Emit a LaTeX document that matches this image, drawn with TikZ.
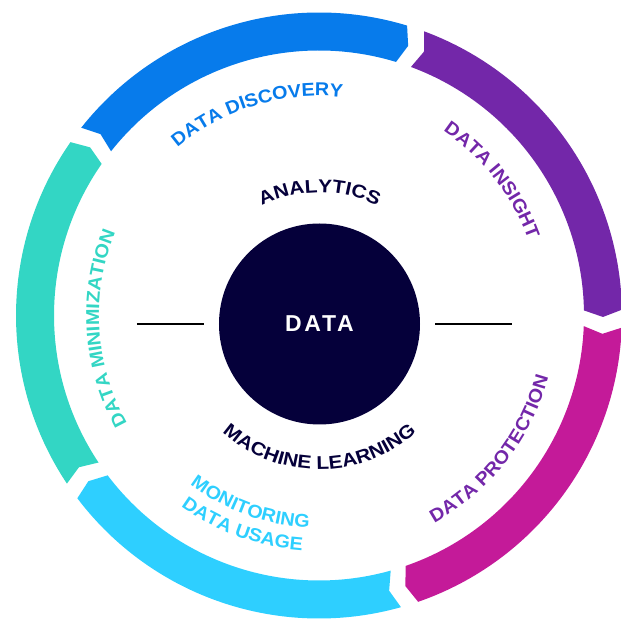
\documentclass[tikz,border=0pt]{standalone}
\usepackage{fontspec}
\setmainfont{Liberation Sans}
\newfontfamily\ringfont[FakeStretch=1.07]{Liberation Sans}
\newfontfamily\innerfont[FakeStretch=1.13]{Liberation Sans}
\newfontfamily\corefont[LetterSpace=12]{Liberation Sans}
\definecolor{cBlue}{HTML}{077BEB}
\definecolor{cPurple}{HTML}{7327A9}
\definecolor{cMagenta}{HTML}{C41A99}
\definecolor{cCyan}{HTML}{2ECFFF}
\definecolor{cTeal}{HTML}{33D6C4}
\definecolor{cNavy}{HTML}{05003A}
\newcommand\ringlbl{\ringfont\bfseries\fontsize{18.5}{20}\selectfont}
\newcommand\corelbl{\innerfont\bfseries\fontsize{18.5}{20}\selectfont}
\usetikzlibrary{decorations.text}

\begin{document}
\begin{tikzpicture}[x=1pt, y=1pt,
  core/.style={circle, fill=cNavy, text=white, minimum size=201, inner sep=0,
    font=\corefont\bfseries\fontsize{23}{26}\selectfont},
  bar/.style={line width=2.2pt, color=black},
  arclbl/.style={decorate, decoration={text along path, text align=center,
    text color=#1}}
]
  \useasboundingbox (-319,-304.5) rectangle (302,315.5);
  \def\rout{303} \def\rin{265} \def\rmid{284}

  % ring of five arrows, clockwise
  \foreach \col [count=\k from 0] in {cBlue,cPurple,cMagenta,cCyan,cTeal}{
    \pgfmathsetmacro\bt{143.4-72*\k-1.7}
    \pgfmathsetmacro\bh{143.4-72*(\k+1)+1.7}
    \pgfmathsetmacro\tip{\bh-1.4}
    \pgfmathsetmacro\notch{\bt-1.4}
    \fill[\col] (\bt:\rout) arc[start angle=\bt, end angle=\bh, radius=\rout]
      -- (\tip:\rmid) -- (\bh:\rin)
      arc[start angle=\bh, end angle=\bt, radius=\rin]
      -- (\notch:\rmid) -- cycle;
  }

  % ring labels
  \path[arclbl=cBlue, decoration={text={|\ringlbl|DATA DISCOVERY}}]
    (147:219.5) arc[start angle=147, end angle=67, radius=219.5];
  \path[arclbl=cPurple, decoration={text={|\ringlbl|DATA INSIGHT}}]
    (78:222.5) arc[start angle=78, end angle=-2, radius=222.5];
  \path[arclbl=cPurple, decoration={text={|\ringlbl|DATA PROTECTION}}]
    (-88:237.5) arc[start angle=-88, end angle=12, radius=237.5];
  \path[arclbl=cCyan, decoration={text={|\ringlbl|MONITORING}}]
    (-150:212.5) arc[start angle=-150, end angle=-70, radius=212.5];
  \path[arclbl=cCyan, decoration={text={|\ringlbl|DATA USAGE}}]
    (-150:235.5) arc[start angle=-150, end angle=-70, radius=235.5];
  \path[arclbl=cTeal, decoration={text={|\ringlbl|DATA MINIMIZATION}}]
    (233.5:220) arc[start angle=233.5, end angle=133.5, radius=220];

  % core
  \node[core] (data) at (0.5,-8.5) {DATA};
  \path[arclbl=cNavy, decoration={text={|\corelbl|ANALYTICS}}]
    ([shift={(140:131.5)}]data.center) arc[start angle=140, end angle=40, radius=131.5];
  \path[arclbl=cNavy, decoration={text={|\corelbl|MACHINE LEARNING}}]
    ([shift={(-150:145.5)}]data.center) arc[start angle=-150, end angle=-30, radius=145.5];

  % side bars
  \coordinate (lA) at (-182,-8.8);
  \coordinate (lB) at (-115,-8.8);
  \coordinate (rA) at (116,-8.8);
  \coordinate (rB) at (193,-8.8);
  \draw[bar] (lA) -- (lB);
  \draw[bar] (rA) -- (rB);
\end{tikzpicture}
\end{document}
